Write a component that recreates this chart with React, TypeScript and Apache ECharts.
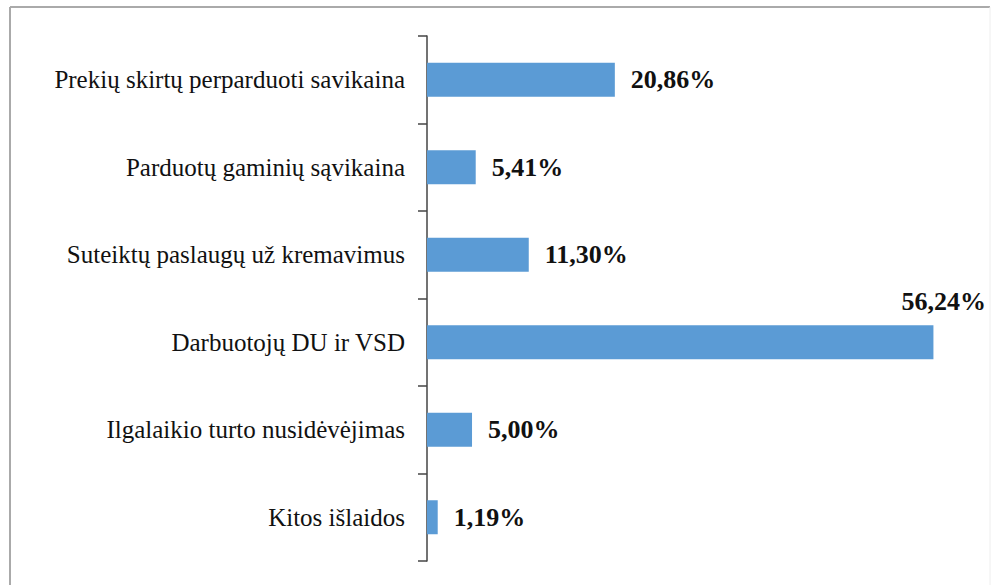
import React, { useEffect, useRef } from "react";
import * as echarts from "echarts";

const categories = [
  "Prekių skirtų perparduoti savikaina",
  "Parduotų gaminių sąvikaina",
  "Suteiktų paslaugų už kremavimus",
  "Darbuotojų DU ir VSD",
  "Ilgalaikio turto nusidėvėjimas",
  "Kitos išlaidos",
];
const values = [20.86, 5.41, 11.3, 56.24, 5.0, 1.19];

const SERIF = "Liberation Serif";

export default function App() {
  const ref = useRef<HTMLDivElement>(null);
  useEffect(() => {
    if (!ref.current) return;
    const chart = echarts.init(ref.current, null, { renderer: "svg" });
    const maxIdx = values.indexOf(Math.max(...values));
    chart.setOption({
      animation: false,
      backgroundColor: "#ffffff",
      textStyle: { fontFamily: SERIF },
      grid: { left: 427, right: 7, top: 36, bottom: 24, containLabel: false },
      xAxis: { type: "value", min: 0, max: 62.3, show: false },
      yAxis: {
        type: "category",
        data: categories,
        inverse: true,
        axisLine: { show: true, lineStyle: { color: "#444", width: 1.5 } },
        axisTick: { show: true, length: 9, lineStyle: { color: "#444", width: 1.5 } },
        axisLabel: {
          fontFamily: SERIF,
          fontSize: 25,
          color: "#111",
          margin: 22,
        },
        splitLine: { show: false },
      },
      series: [
        {
          type: "bar",
          barWidth: 34,
          itemStyle: { color: "#5b9bd5" },
          data: values.map((v, i) =>
            i === maxIdx
              ? { value: v, label: { position: "right", offset: [-48, -41] } }
              : v
          ),
          label: {
            show: true,
            position: "right",
            distance: 16,
            fontFamily: SERIF,
            fontWeight: "bold",
            fontSize: 26,
            color: "#111",
            formatter: (p: any) => p.value.toFixed(2).replace(".", ",") + "%",
          },
        },
      ],
      graphic: [
        { type: "line", shape: { x1: 10, y1: 7, x2: 990, y2: 7 }, style: { stroke: "#aaa", lineWidth: 2 } },
        { type: "line", shape: { x1: 10, y1: 7, x2: 10, y2: 585 }, style: { stroke: "#aaa", lineWidth: 2 } },
        { type: "line", shape: { x1: 990, y1: 7, x2: 990, y2: 585 }, style: { stroke: "#eee", lineWidth: 1 } },
      ],
    });
    return () => chart.dispose();
  }, []);
  return (
    <div
      ref={ref}
      style={{ position: "fixed", left: 0, top: 0, width: 995, height: 585 }}
    />
  );
}
